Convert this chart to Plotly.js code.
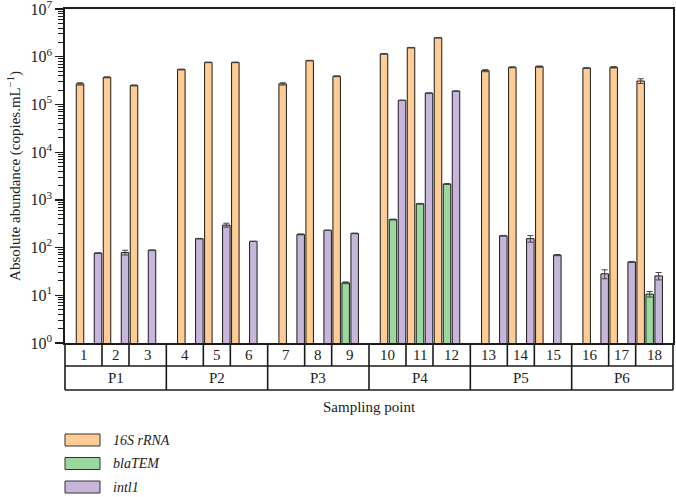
<!DOCTYPE html>
<html>
<head>
<meta charset="utf-8">
<script src="https://cdn.plot.ly/plotly-3.0.1.min.js"></script>
<style>
  html, body { margin: 0; padding: 0; background: #fff; }
  #chart { width: 676px; height: 497px; }
</style>
</head>
<body>
<div id="chart"></div>
<script>
// Sampling points, grouped three per site
const sites = ['P1', 'P2', 'P3', 'P4', 'P5', 'P6'];
const samples = ['1', '2', '3', '4', '5', '6', '7', '8', '9', '10', '11', '12', '13', '14', '15', '16', '17', '18'];

// Gene names as shown in the key
const geneNames = ['16S rRNA', 'blaTEM', 'intl1'];

// Absolute abundance (copies.mL-1) per sampling point
const rRNA16S = [2.7e5, 3.7e5, 2.5e5, 5.4e5, 7.6e5, 7.6e5, 2.7e5, 8.3e5, 3.9e5,
                 1.15e6, 1.55e6, 2.5e6, 5.1e5, 6.0e5, 6.2e5, 5.8e5, 6.0e5, 3.1e5];
const rRNA16SErr = [1.5e4, 8e3, 6e3, 1e4, 1e4, 1e4, 1.5e4, 1e4, 8e3,
                    2e4, 2e4, 3e4, 2.5e4, 1.5e4, 2e4, 1e4, 2e4, 3.5e4];

const blaTEM = [null, null, null, null, null, null, null, null, 18.3,
                387, 830, 2150, null, null, null, null, null, 10.6];
const blaTEMErr = [0, 0, 0, 0, 0, 0, 0, 0, 0.8,
                   8, 15, 40, 0, 0, 0, 0, 0, 1.4];

const intl1 = [76.6, 79, 88, 154, 296, 135, 189, 230, 198,
               1.22e5, 1.73e5, 1.9e5, 177, 154, 69.6, 28.2, 49.9, 25.5];
const intl1Err = [1, 9, 1, 2, 28, 1, 4, 2, 3,
                  1e3, 1e3, 1e3, 3, 24, 2, 6, 1, 4.5];

// Decade exponents for the log axis labels
const decades = [0, 1, 2, 3, 4, 5, 6, 7];

// Colours
const colors = ['#FFCC96', '#9AD8A0', '#C7B6DA'];
const edge = '#1a1a1a';
const serif = '"Liberation Serif", "DejaVu Serif", serif';

// Geometry of the x axis (one unit = one pixel of plot width)
const marginTop = 9, marginBottom = 154;
const plotW = 608, plotH = 497 - marginTop - marginBottom;
const groupW = plotW / sites.length;
const samplePitch = 27, barPitch = 9, barW = 7.5, firstCenter = 24, dividerOff = 10;

// Centre of each sampling point (middle bar slot)
const xs = samples.map((_, i) => {
  const g = Math.floor(i / 3), s = i % 3;
  return g * groupW + firstCenter + s * samplePitch;
});

function barTrace(k, vals, errs) {
  return {
    type: 'bar',
    name: geneNames[k],
    x: xs,
    y: vals,
    width: barW,
    offset: (k - 1) * barPitch - barW / 2,
    marker: { color: colors[k], line: { color: edge, width: 1 } },
    error_y: { type: 'data', array: errs, visible: true, color: '#444', thickness: 1, width: 3 },
    showlegend: false,
    hoverinfo: 'y'
  };
}

const traces = [
  barTrace(0, rRNA16S, rRNA16SErr),
  barTrace(1, blaTEM, blaTEMErr),
  barTrace(2, intl1, intl1Err)
];

// Helpers: pixel offsets below the plot -> paper coordinates
const py = px => -px / plotH;          // px below the x axis line
const pxX = x => x / plotW;            // axis units -> paper x

const shapes = [];
const annotations = [];
const lineStyle = { color: edge, width: 1.6 };
const row1 = 23, row2 = 47;

// Table rows beneath the axis
shapes.push({ type: 'line', xref: 'paper', yref: 'paper', x0: 0, x1: 1, y0: py(row1), y1: py(row1), line: lineStyle });
shapes.push({ type: 'line', xref: 'paper', yref: 'paper', x0: 0, x1: 1, y0: py(row2), y1: py(row2), line: lineStyle });

// Site boundaries and labels
for (let g = 0; g <= sites.length; g++) {
  shapes.push({ type: 'line', xref: 'paper', yref: 'paper', x0: pxX(g * groupW), x1: pxX(g * groupW),
                y0: 0, y1: py(row2), line: lineStyle });
}
sites.forEach((s, g) => {
  annotations.push({ text: s, xref: 'paper', yref: 'paper', x: pxX((g + 0.5) * groupW), y: py((row1 + row2) / 2),
                     showarrow: false, xanchor: 'center', yanchor: 'middle',
                     font: { family: serif, size: 15, color: '#222' } });
});

// Sample cells and labels
samples.forEach((lab, i) => {
  const g = Math.floor(i / 3), s = i % 3;
  const start = g * groupW;
  const left = s === 0 ? start : start + dividerOff + s * samplePitch;
  const right = s === 2 ? start + groupW : start + dividerOff + (s + 1) * samplePitch;
  if (s > 0) {
    shapes.push({ type: 'line', xref: 'paper', yref: 'paper', x0: pxX(left), x1: pxX(left),
                  y0: 0, y1: py(row1), line: lineStyle });
  }
  annotations.push({ text: lab, xref: 'paper', yref: 'paper', x: pxX((left + right) / 2), y: py(row1 / 2),
                     showarrow: false, xanchor: 'center', yanchor: 'middle',
                     font: { family: serif, size: 15, color: '#222' } });
});

// X axis title
annotations.push({ text: 'Sampling point', xref: 'paper', yref: 'paper', x: 0.5, y: py(64),
                   showarrow: false, xanchor: 'center', yanchor: 'middle',
                   font: { family: serif, size: 15, color: '#222' } });

// Key below the chart
geneNames.forEach((name, k) => {
  const cy = 97 + k * 23.5;
  shapes.push({ type: 'rect', xref: 'paper', yref: 'paper', x0: pxX(0), x1: pxX(35),
                y0: py(cy - 6), y1: py(cy + 6), fillcolor: colors[k], line: { color: '#333', width: 1 } });
  annotations.push({ text: '<i>' + name + '</i>', xref: 'paper', yref: 'paper', x: pxX(46), y: py(cy),
                     showarrow: false, xanchor: 'left', yanchor: 'middle',
                     font: { family: serif, size: 14, color: '#222' } });
});

// Minor ticks at 2..9 within each decade
const minorVals = [];
decades.slice(0, -1).forEach(d => {
  for (let m = 2; m <= 9; m++) minorVals.push(m * Math.pow(10, d));
});

const layout = {
  width: 676,
  height: 497,
  margin: { l: 65, r: 3, t: marginTop, b: marginBottom },
  paper_bgcolor: '#fff',
  plot_bgcolor: '#fff',
  barmode: 'overlay',
  showlegend: false,
  font: { family: serif, color: '#222' },
  xaxis: {
    range: [0, plotW],
    showgrid: false,
    zeroline: false,
    showticklabels: false,
    ticks: '',
    showline: true,
    mirror: true,
    linecolor: edge,
    linewidth: 1.6,
    fixedrange: true
  },
  yaxis: {
    type: 'log',
    range: [0, 7.0005],
    showgrid: false,
    zeroline: false,
    showline: true,
    mirror: true,
    linecolor: edge,
    linewidth: 1.6,
    ticks: 'outside',
    ticklen: 8,
    tickwidth: 1.3,
    tickcolor: edge,
    tickmode: 'array',
    tickvals: decades.map(d => Math.pow(10, d)),
    ticktext: decades.map(d => '10<sup>' + d + '</sup>'),
    tickfont: { family: serif, size: 16, color: '#222' },
    ticklabeloverflow: 'allow',
    minor: { ticks: 'outside', ticklen: 5, tickwidth: 1, tickcolor: edge, tickmode: 'array', tickvals: minorVals, showgrid: false },
    title: { text: 'Absolute abundance (copies.mL<sup>−1</sup>)', font: { family: serif, size: 15, color: '#222' }, standoff: 6 },
    fixedrange: true
  },
  shapes: shapes,
  annotations: annotations
};

Plotly.newPlot('chart', traces, layout, { displayModeBar: false, staticPlot: true });
</script>
</body>
</html>
